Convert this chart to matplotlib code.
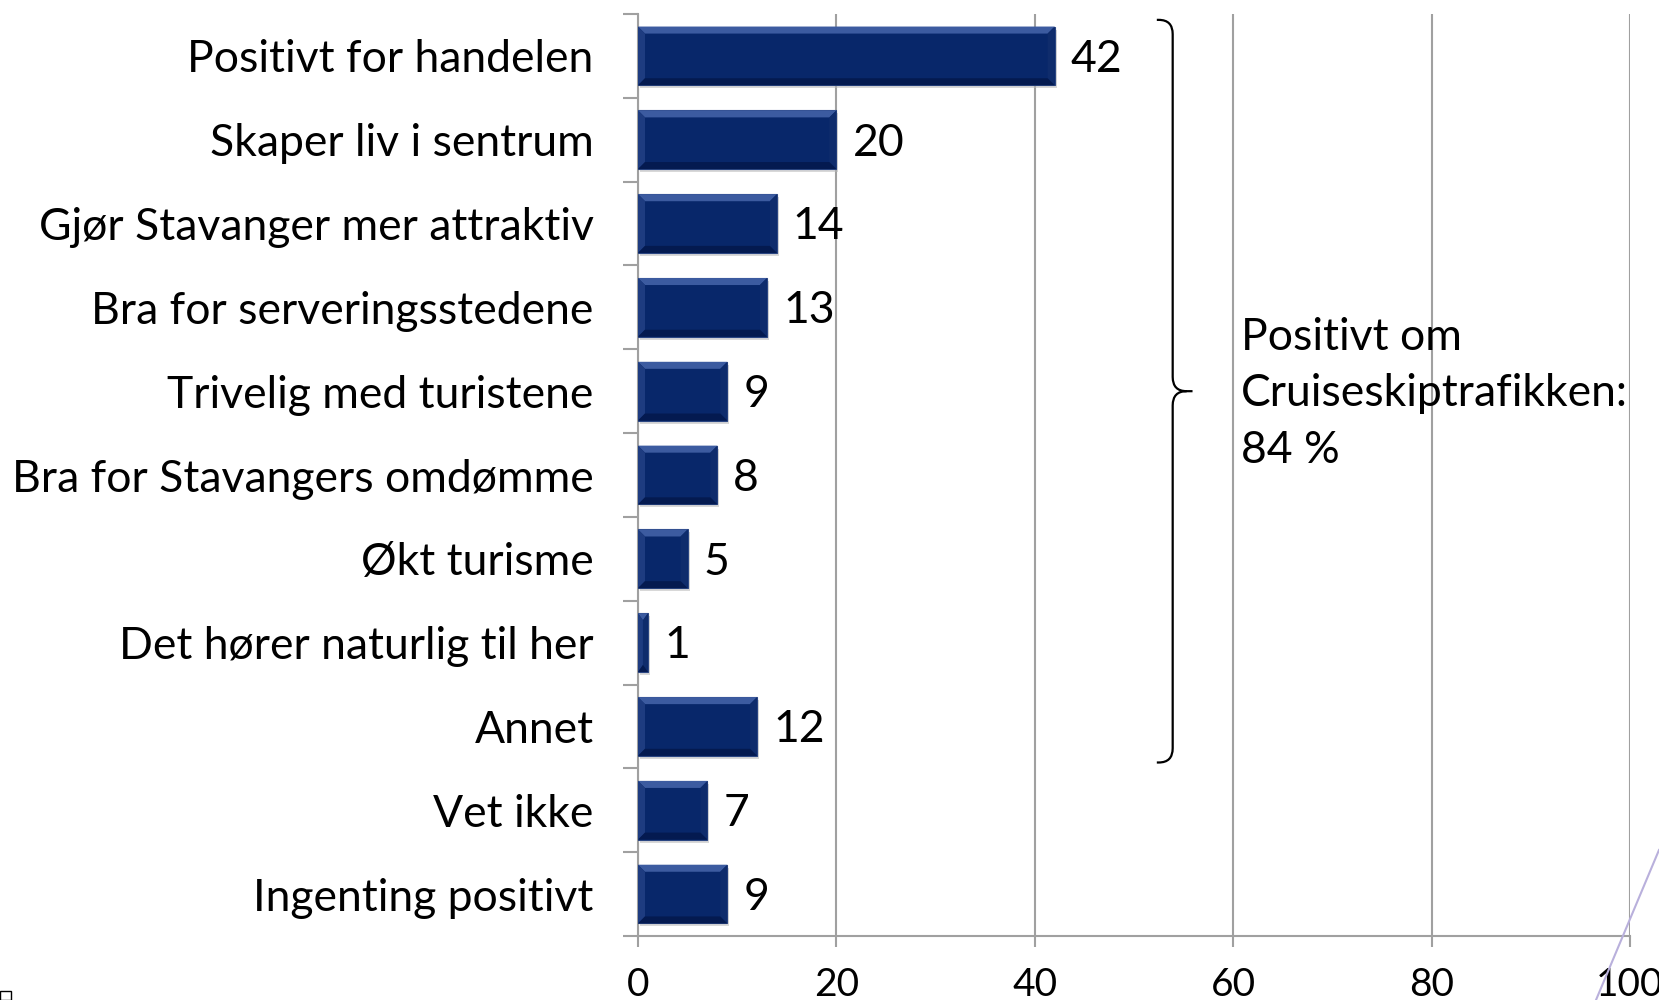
import matplotlib
matplotlib.use("Agg")
import matplotlib.pyplot as plt
from matplotlib.patches import Polygon, Rectangle, PathPatch
from matplotlib.path import Path
from matplotlib.lines import Line2D
import numpy as np

plt.rcParams['font.family'] = ['Lato', 'DejaVu Sans']

categories = ["Positivt for handelen", "Skaper liv i sentrum", "Gjør Stavanger mer attraktiv",
              "Bra for serveringsstedene", "Trivelig med turistene", "Bra for Stavangers omdømme",
              "Økt turisme", "Det hører naturlig til her", "Annet", "Vet ikke", "Ingenting positivt"]
values = [42, 20, 14, 13, 9, 8, 5, 1, 12, 7, 9]
x_ticks = [0, 20, 40, 60, 80, 100]
brace_text = "Positivt om\nCruiseskiptrafikken:\n84 %"
n_positive = 9

FS = 32
FS_TICK = 28
W, H = 1659, 1000
fig = plt.figure(figsize=(W / 100, H / 100), dpi=100)
left, right, top, bottom = 638, 1630, 14, 936
ax = fig.add_axes([left / W, 1 - bottom / H, (right - left) / W, (bottom - top) / H])

n = len(categories)
y = np.arange(n)
ax.set_xlim(0, 100)
ax.set_ylim(n - 0.5, -0.5)

bh = 0.7
# pixel-to-data scale
px_x = 100 / (right - left)
px_y = n / (bottom - top)
bev = 7

fill = '#08276a'
for yi, v in zip(y, values):
    # shadow
    ax.add_patch(Rectangle((0 + 2 * px_x, yi - bh / 2 + 3 * px_y), v, bh,
                           facecolor='#b8b8b8', edgecolor='none', alpha=0.55, zorder=2))
    ax.barh(yi, v, height=bh, color=fill, edgecolor='#2b4682', linewidth=0.8, zorder=3)
    bx = min(bev * px_x, v / 2)
    by = bev * px_y
    x0, x1 = 0, v
    y0, y1 = yi - bh / 2, yi + bh / 2  # y0 is top (inverted axis)
    # top bevel
    ax.add_patch(Polygon([(x0, y0), (x1, y0), (x1 - bx, y0 + by), (x0 + bx, y0 + by)],
                         closed=True, facecolor='#3c5ba0', edgecolor='none', zorder=4))
    # left bevel
    ax.add_patch(Polygon([(x0, y0), (x0 + bx, y0 + by), (x0 + bx, y1 - by), (x0, y1)],
                         closed=True, facecolor='#1e3c80', edgecolor='none', zorder=4))
    # right bevel
    ax.add_patch(Polygon([(x1, y0), (x1 - bx, y0 + by), (x1 - bx, y1 - by), (x1, y1)],
                         closed=True, facecolor='#0f2c6c', edgecolor='none', zorder=4))
    # bottom bevel
    ax.add_patch(Polygon([(x0, y1), (x0 + bx, y1 - by), (x1 - bx, y1 - by), (x1, y1)],
                         closed=True, facecolor='#041a50', edgecolor='none', zorder=4))
    ax.text(v + 16 * px_x, yi + 0.04, str(v), va='center', ha='left', fontsize=FS,
            color='black', zorder=5)

# grid & spines
ax.set_xticks(x_ticks)
ax.set_xticklabels([str(t) for t in x_ticks], fontsize=FS_TICK)
ax.xaxis.grid(True, color='#a0a0a0', linewidth=1.5, zorder=0)
ax.set_axisbelow(True)
for s in ['top', 'right']:
    ax.spines[s].set_visible(False)
for s in ['left', 'bottom']:
    ax.spines[s].set_color('#a0a0a0')
    ax.spines[s].set_linewidth(1.5)
ax.tick_params(axis='x', length=8, width=1.5, color='#a0a0a0', pad=14, labelsize=FS_TICK)
ax.set_yticks(np.arange(-0.5, n, 1.0))
ax.set_yticklabels([])
ax.tick_params(axis='y', length=11, width=1.5, color='#a0a0a0')
ax.set_yticks(y, minor=True)
ax.set_yticklabels(categories, minor=True, fontsize=FS)
ax.tick_params(axis='y', which='minor', length=0, pad=32)

# brace for the positive categories
xb = 53.9
rx, ry = 1.4, 0.17
ytop, ybot = -0.43, n_positive - 0.57
ymid = (ytop + ybot) / 2
xl, xt = 52.3, 55.9
verts = [(xl, ytop), (xb - rx, ytop), (xb, ytop), (xb, ytop + ry),
         (xb, ymid - ry), (xb, ymid), (xb + rx, ymid), (xt, ymid),
         (xb + rx, ymid), (xb, ymid), (xb, ymid + ry),
         (xb, ybot - ry), (xb, ybot), (xb - rx, ybot), (xl, ybot)]
codes = [Path.MOVETO, Path.LINETO, Path.CURVE3, Path.CURVE3,
         Path.LINETO, Path.CURVE3, Path.CURVE3, Path.LINETO,
         Path.MOVETO, Path.CURVE3, Path.CURVE3,
         Path.LINETO, Path.CURVE3, Path.CURVE3, Path.LINETO]
ax.add_patch(PathPatch(Path(verts, codes), facecolor='none', edgecolor='black',
                       linewidth=1.6, zorder=5, clip_on=False))
ax.text(60.8, ymid + 0.03, brace_text, fontsize=FS, va='center', ha='left',
        linespacing=1.47, zorder=5)

# decorative line bottom right
fig.add_artist(Line2D([1596 / W, 1.0], [0.0, 0.15], color='#b9b0dc', linewidth=1.5))
# small logo fragment bottom-left
fig.add_artist(Rectangle((0, 0), 11 / W, 9 / H, facecolor='none', edgecolor='black',
                         linewidth=1.0, transform=fig.transFigure))

fig.savefig('out.png', dpi=100)
